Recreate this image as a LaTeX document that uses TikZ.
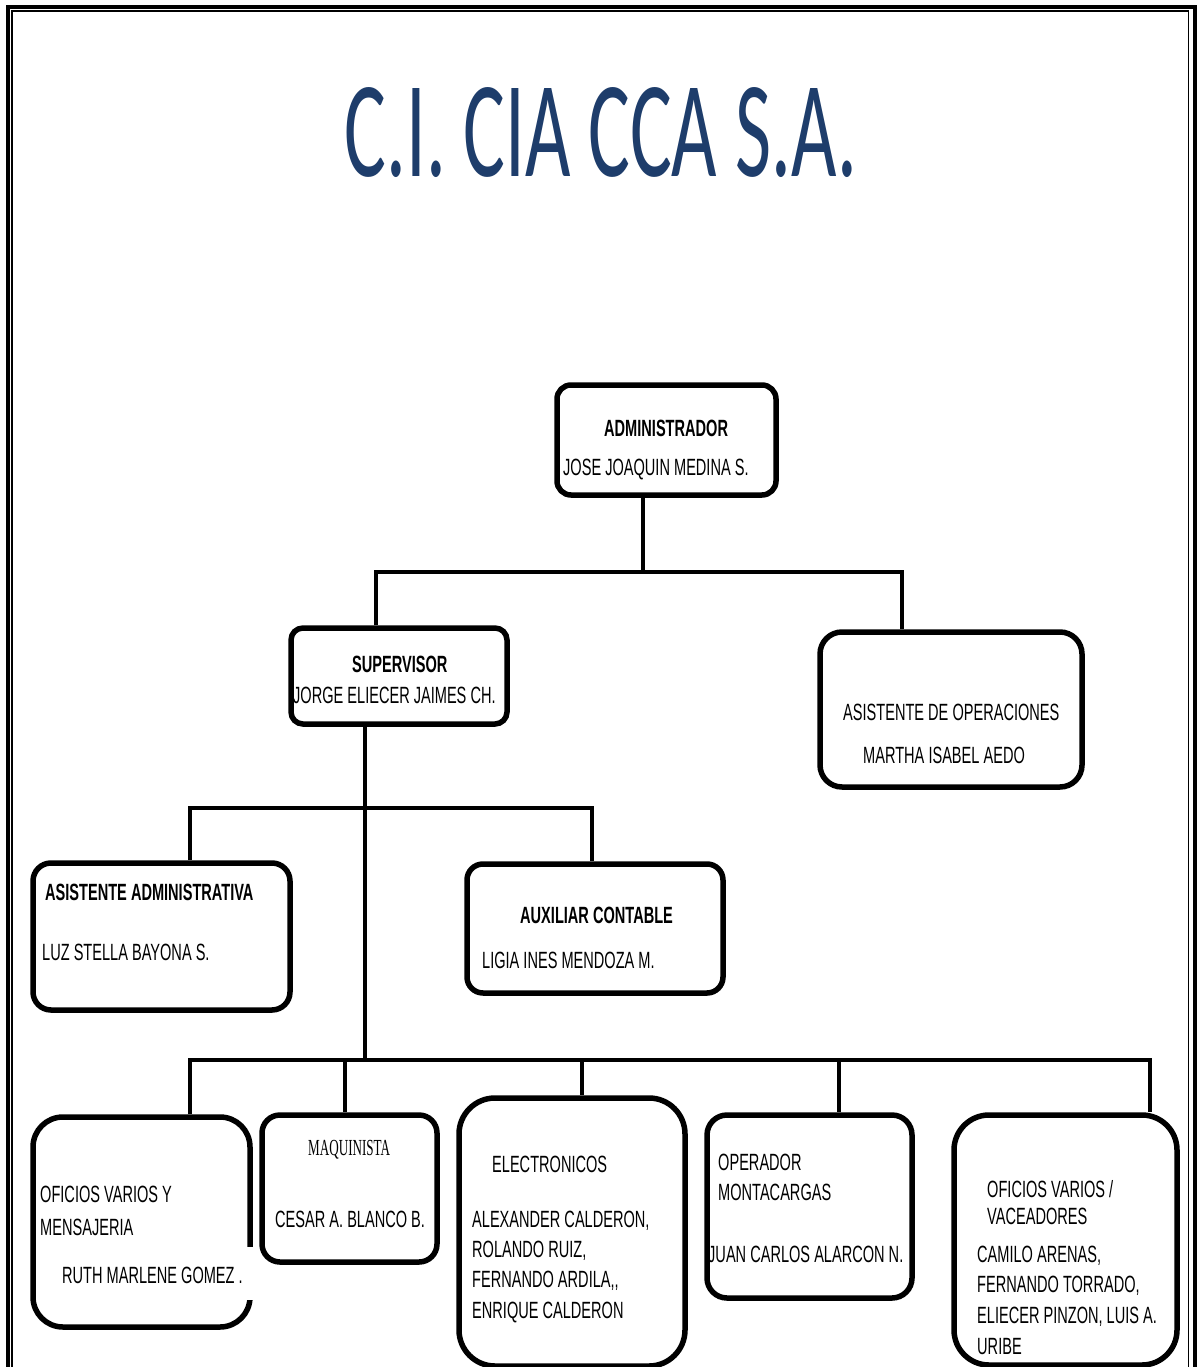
\documentclass[tikz,border=0pt]{standalone}
\usepackage{graphicx}
\usepackage{fontspec}
\setmainfont{Liberation Sans}
\newfontfamily\boxfont[FakeStretch=0.62]{Liberation Sans}
\newfontfamily\serfont[FakeStretch=0.57]{Liberation Serif}
\newfontfamily\titlefont{Carlito}
\definecolor{titleblue}{RGB}{30,61,107}
\newcommand\OrgTxt[4]{\node[lbl] (#1) at (#2,#3) {#4};}
\begin{document}
\begin{tikzpicture}[x=1pt,y=-1pt,
  orgbox/.style={draw=black, line width=5.5pt, rounded corners=#1, fill=white, inner sep=0pt},
  orgbox/.default=14pt,
  conn/.style={line width=4.5pt, line join=miter},
  lbl/.style={inner sep=0pt, anchor=base west, font=\boxfont\fontsize{23.5}{27}\selectfont},
  bl/.style={lbl, font=\boxfont\bfseries\fontsize{23.5}{27}\selectfont},
  sl/.style={lbl, font=\serfont\fontsize{23}{27}\selectfont}]
\useasboundingbox (0,0) rectangle (1197,1367);
\fill[white] (0,0) rectangle (1197,1367);
% page border
\draw[line width=4pt] (8,1375) -- (8,7) -- (1194.5,7) -- (1194.5,1375);
\draw[line width=1.5pt] (12,1375) -- (12,11) -- (1188.5,11) -- (1188.5,1375);
% title
\node[anchor=base, inner sep=0pt, text=titleblue] (title) at (601,176)
  {\resizebox{512pt}{89pt}{\titlefont\fontsize{100}{100}\selectfont C.I. CIA CCA S.A.}};
% coordinates of junctions
\coordinate (ja) at (643,572);
\coordinate (b1l) at (376,572);
\coordinate (b1r) at (902,572);
\coordinate (js) at (365,1060);
\coordinate (b2l) at (190,808);
\coordinate (b2r) at (592,808);
\coordinate (b3a) at (190,1060);
\coordinate (b3b) at (345,1060);
\coordinate (b3c) at (582,1060);
\coordinate (b3d) at (839,1060);
\coordinate (b3e) at (1150,1060);
% boxes
\node[orgbox=14pt, minimum width=219pt, minimum height=110pt] (adm) at (666.5,440) {};
\node[orgbox=12pt, minimum width=216pt, minimum height=96pt] (sup) at (399,676) {};
\node[orgbox=22pt, minimum width=262pt, minimum height=155pt] (ops) at (951,709.5) {};
\node[orgbox=18pt, minimum width=257pt, minimum height=147pt] (asa) at (161.5,936.5) {};
\node[orgbox=16pt, minimum width=256pt, minimum height=129pt] (aux) at (595,928.5) {};
\node[orgbox=30pt, minimum width=217pt, minimum height=210pt] (ofi) at (141.5,1222) {};
\node[orgbox=18pt, minimum width=175pt, minimum height=147pt] (maq) at (349.5,1188.5) {};
\node[orgbox=36pt, minimum width=226pt, minimum height=268pt] (ele) at (572,1232) {};
\node[orgbox=20pt, minimum width=205pt, minimum height=183pt] (opm) at (809.5,1206.5) {};
\node[orgbox=35pt, minimum width=223pt, minimum height=250pt] (vac) at (1065.5,1240) {};
% gap in right edge of first lower box
\fill[white] (244,1247) rectangle (257,1300);
% connectors
\draw[conn] (ja |- adm.south) -- (ja);
\draw[conn] (b1l |- sup.north) -- (b1l) -- (b1r) -- (b1r |- ops.north);
\draw[conn] (js |- sup.south) -- (js);
\draw[conn] (b2l |- asa.north) -- (b2l) -- (b2r) -- (b2r |- aux.north);
\draw[conn] (b3a |- ofi.north) -- (b3a) -- (b3e) -- (b3e |- vac.north);
\draw[conn] (b3b) -- (b3b |- maq.north);
\draw[conn] (b3c) -- (b3c |- ele.north);
\draw[conn] (b3d) -- (b3d |- opm.north);
% texts
\node[bl] (t1) at (604,436) {ADMINISTRADOR};
\OrgTxt{t2}{563}{475}{JOSE JOAQUIN MEDINA S.}
\node[bl] (t3) at (352,672) {SUPERVISOR};
\OrgTxt{t4}{293}{703}{JORGE ELIECER JAIMES CH.}
\OrgTxt{t5}{843}{720}{ASISTENTE DE OPERACIONES}
\OrgTxt{t6}{863}{763}{MARTHA ISABEL AEDO}
\node[bl] (t7) at (45,900) {ASISTENTE ADMINISTRATIVA};
\OrgTxt{t8}{42}{960}{LUZ STELLA BAYONA S.}
\node[bl] (t9) at (520,923) {AUXILIAR CONTABLE};
\OrgTxt{t10}{482}{968}{LIGIA INES MENDOZA M.}
\OrgTxt{t11}{40}{1202}{OFICIOS VARIOS Y}
\OrgTxt{t12}{40}{1235}{MENSAJERIA}
\OrgTxt{t13}{62}{1283}{RUTH MARLENE GOMEZ .}
\node[sl] (t14) at (308,1155) {MAQUINISTA};
\OrgTxt{t15}{275}{1227}{CESAR A. BLANCO B.}
\OrgTxt{t16}{492}{1172}{ELECTRONICOS}
\OrgTxt{t17}{472}{1227}{ALEXANDER CALDERON,}
\OrgTxt{t18}{472}{1257}{ROLANDO RUIZ,}
\OrgTxt{t19}{472}{1287}{FERNANDO ARDILA,,}
\OrgTxt{t20}{472}{1318}{ENRIQUE CALDERON}
\OrgTxt{t21}{718}{1170}{OPERADOR}
\OrgTxt{t22}{718}{1200}{MONTACARGAS}
\OrgTxt{t23}{708}{1262}{JUAN CARLOS ALARCON N.}
\OrgTxt{t24}{987}{1197}{OFICIOS VARIOS /}
\OrgTxt{t25}{987}{1224}{VACEADORES}
\OrgTxt{t26}{977}{1262}{CAMILO ARENAS,}
\OrgTxt{t27}{977}{1292}{FERNANDO TORRADO,}
\OrgTxt{t28}{977}{1323}{ELIECER PINZON, LUIS A.}
\OrgTxt{t29}{977}{1354}{URIBE}
\end{tikzpicture}
\end{document}
